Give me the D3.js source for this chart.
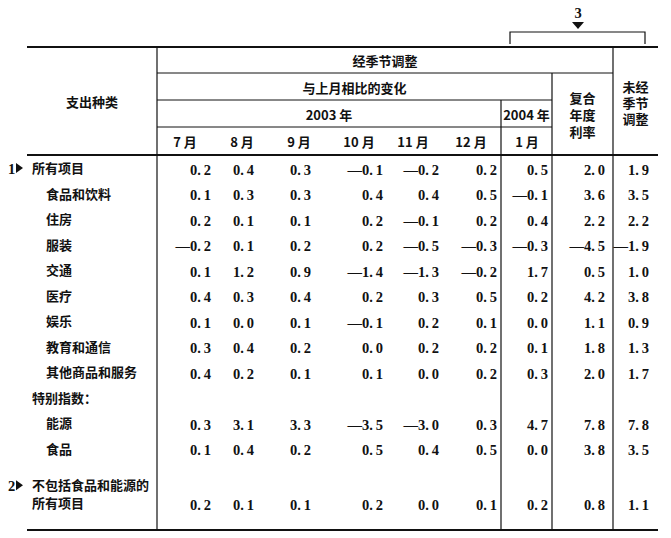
<!DOCTYPE html>
<html>
<head>
<meta charset="utf-8">
<script src="https://cdn.jsdelivr.net/npm/d3@7"></script>
<style>
  body { margin: 0; background: #fff; }
  .cjk { font-family: "Noto Sans CJK SC", sans-serif; font-weight: bold; font-size: 13px; fill: #111; }
  .num { font-family: "Liberation Serif", "DejaVu Serif", serif; font-weight: bold; font-size: 14.5px; fill: #111; }
</style>
</head>
<body>
<div id="chart"></div>
<script>
// row labels (indent: 0 = top level, 1 = sub item)
const categories = ["所有项目", "食品和饮料", "住房", "服装", "交通", "医疗", "娱乐",
  "教育和通信", "其他商品和服务", "特别指数：", "能源", "食品", "不包括食品和能源的|所有项目"];
const indents = [0, 1, 1, 1, 1, 1, 1, 1, 1, 0, 1, 1, 0];
const markers = ["1", "", "", "", "", "", "", "", "", "", "", "", "2"];

const months2003 = ["7 月", "8 月", "9 月", "10 月", "11 月", "12 月"];
const months2004 = ["1 月"];

// monthly change, 2003 Jul..Dec
const change2003 = [
  [0.2, 0.4, 0.3, -0.1, -0.2, 0.2],
  [0.1, 0.3, 0.3, 0.4, 0.4, 0.5],
  [0.2, 0.1, 0.1, 0.2, -0.1, 0.2],
  [-0.2, 0.1, 0.2, 0.2, -0.5, -0.3],
  [0.1, 1.2, 0.9, -1.4, -1.3, -0.2],
  [0.4, 0.3, 0.4, 0.2, 0.3, 0.5],
  [0.1, 0.0, 0.1, -0.1, 0.2, 0.1],
  [0.3, 0.4, 0.2, 0.0, 0.2, 0.2],
  [0.4, 0.2, 0.1, 0.1, 0.0, 0.2],
  null,
  [0.3, 3.1, 3.3, -3.5, -3.0, 0.3],
  [0.1, 0.4, 0.2, 0.5, 0.4, 0.5],
  [0.2, 0.1, 0.1, 0.2, 0.0, 0.1]
];
const change2004 = [0.5, -0.1, 0.4, -0.3, 1.7, 0.2, 0.0, 0.1, 0.3, null, 4.7, 0.0, 0.2];
const annualRate = [2.0, 3.6, 2.2, -4.5, 0.5, 4.2, 1.1, 1.8, 2.0, null, 7.8, 3.8, 0.8];
const unadjusted = [1.9, 3.5, 2.2, -1.9, 1.0, 3.8, 0.9, 1.3, 1.7, null, 7.8, 3.5, 1.1];

const width = 671, height = 538;
const xLeft = 27, xEnd = 658;
const yTop = 47, headBottom = 155, yBottom = 530;
const xLabel = 157, x2004 = 501, xRate = 552, xUnadj = 613;
const hRow1 = 73, hRow2 = 100, hRow3 = 127;

const svg = d3.select("#chart").append("svg")
  .attr("width", width)
  .attr("height", height);

// column anchors (right edge of numbers, centre of month label)
const colKeys = ["m0", "m1", "m2", "m3", "m4", "m5", "j1", "rate", "unadj"];
const xRight = d3.scaleOrdinal().domain(colKeys)
  .range([211, 254, 311, 383, 439, 497, 548, 605, 649]);
const xHead = d3.scaleOrdinal().domain(colKeys.slice(0, 7))
  .range([185, 242, 299, 359, 413, 471, 527]);

const y = d3.scaleLinear().domain([0, 11]).range([168, 448.5]);
const rowY = i => i === categories.length - 1 ? y(13.15) : y(i);

// ---- rules ----
const line = (x1, y1, x2, y2, w) => svg.append("line")
  .attr("x1", x1).attr("y1", y1).attr("x2", x2).attr("y2", y2)
  .attr("stroke", "#111").attr("stroke-width", w);

line(xLeft, yTop, xEnd, yTop, 2.2);
line(xLeft, headBottom, xEnd, headBottom, 2);
line(xLeft, yBottom, xEnd, yBottom, 2.2);
line(xLabel, yTop, xLabel, yBottom, 1.2);
line(xUnadj, yTop, xUnadj, yBottom, 1.2);
line(xRate, hRow1, xRate, yBottom, 1.2);
line(x2004, hRow2, x2004, yBottom, 1.2);
line(xLabel, hRow1, xUnadj, hRow1, 1);
line(xLabel, hRow2, xRate, hRow2, 1);
line(xLabel, hRow3, xRate, hRow3, 1);

// ---- bracket "3" ----
svg.append("path")
  .attr("d", "M510,44 L510,32 L645,32 L645,44")
  .attr("fill", "none").attr("stroke", "#111").attr("stroke-width", 1.2);
svg.append("text").attr("class", "num")
  .attr("x", 578).attr("y", 18).attr("text-anchor", "middle").text("3");
svg.append("path")
  .attr("d", "M572,22 L584,22 L578,29 Z").attr("fill", "#111");

// ---- header texts ----
const headText = (x, yy, t) => svg.append("text").attr("class", "cjk")
  .attr("x", x).attr("y", yy).attr("text-anchor", "middle").text(t);

// stacked header: one text element, lines as tspans
const stackText = (x, yy, lines, step) => {
  const t = svg.append("text").attr("class", "cjk")
    .attr("x", x).attr("y", yy).attr("text-anchor", "middle");
  lines.forEach((s, i) => t.append("tspan")
    .attr("x", x).attr("dy", i === 0 ? 0 : step).text(s));
};

headText((xLeft + xLabel) / 2, 107, "支出种类");
headText((xLabel + xUnadj) / 2, 66, "经季节调整");
headText((xLabel + xRate) / 2, 93, "与上月相比的变化");
headText((xLabel + x2004) / 2, 120, "2003 年");
headText((x2004 + xRate) / 2, 120, "2004 年");
stackText((xRate + xUnadj) / 2, 103, ["复合", "年度", "利率"], 17);
stackText((xUnadj + xEnd) / 2, 92, ["未经", "季节", "调整"], 16);

svg.selectAll("text.month")
  .data(months2003.concat(months2004))
  .enter().append("text")
  .attr("class", "cjk month")
  .attr("x", (d, i) => xHead(colKeys[i]))
  .attr("y", 147)
  .attr("text-anchor", "middle")
  .text(d => d);

// ---- row labels ----
categories.forEach((c, i) => {
  const parts = c.split("|");
  const x0 = indents[i] ? 46 : 32;
  const yy = rowY(i);
  parts.forEach((p, k) => {
    svg.append("text").attr("class", "cjk")
      .attr("x", x0)
      .attr("y", (parts.length > 1 ? yy - 18 * (parts.length - 1 - k) : yy) + 5)
      .text(p);
  });
  if (markers[i]) {
    const my = parts.length > 1 ? yy - 18 : yy;
    svg.append("text").attr("class", "num")
      .attr("x", 8).attr("y", my + 5.5).text(markers[i]);
    svg.append("path")
      .attr("d", `M16,${my - 5} L23,${my} L16,${my + 5} Z`)
      .attr("fill", "#111");
  }
});

// ---- numbers ----
const fmt = v => (v < 0 ? "\u2014" : "") + d3.format(".1f")(Math.abs(v)).replace(".", ".\u2009");

const cells = [];
categories.forEach((c, i) => {
  if (!change2003[i]) return;
  change2003[i].forEach((v, j) => cells.push({ key: colKeys[j], v: v, row: i }));
  cells.push({ key: "j1", v: change2004[i], row: i });
  cells.push({ key: "rate", v: annualRate[i], row: i });
  cells.push({ key: "unadj", v: unadjusted[i], row: i });
});

svg.selectAll("text.val")
  .data(cells)
  .enter().append("text")
  .attr("class", "num val")
  .attr("x", d => xRight(d.key))
  .attr("y", d => rowY(d.row) + 6.5)
  .attr("text-anchor", "end")
  .text(d => fmt(d.v));
</script>
</body>
</html>
